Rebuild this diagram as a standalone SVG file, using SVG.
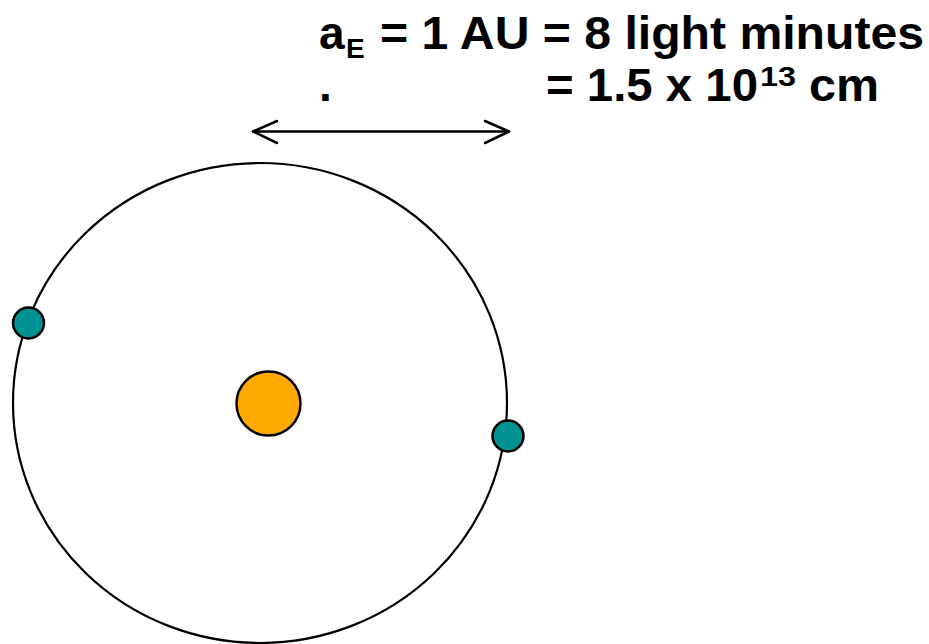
<svg xmlns="http://www.w3.org/2000/svg" width="929" height="644" viewBox="0 0 929 644">
  <style>
    .t { font-family: "Liberation Sans", Arial, sans-serif; font-weight: bold; fill: #000; }
    .big { font-size: 46px; }
    .small { font-size: 28px; }
    .body { stroke: #000; stroke-width: 2.5; }
    .line { fill: none; stroke: #000; stroke-width: 2.5; stroke-linecap: round; stroke-linejoin: round; }
  </style>
  <rect width="929" height="644" fill="#fff"/>
  <g id="orbit">
    <ellipse cx="260" cy="403" rx="247" ry="240" fill="none" stroke="#000" stroke-width="2.2"/>
  </g>
  <g id="sun">
    <circle cx="268.5" cy="403.5" r="32" fill="#FFAA00" class="body"/>
  </g>
  <g id="planet-left">
    <circle cx="28.5" cy="323" r="15.5" fill="#009292" class="body"/>
  </g>
  <g id="planet-right">
    <circle cx="508" cy="436" r="15.5" fill="#009292" class="body"/>
  </g>
  <g id="connectors">
    <path class="line" d="M253,131.5 H509"/>
    <path class="line" d="M277,121 L253,131.5 L277,143"/>
    <path class="line" d="M485,121 L509,131.5 L485,143"/>
  </g>
  <g id="label">
    <text class="t big" x="319" y="49">a</text>
    <text class="t small" x="346" y="58">E</text>
    <text class="t big" x="380" y="49" textLength="544" lengthAdjust="spacingAndGlyphs">= 1 AU = 8 light minutes</text>
    <text class="t big" x="319" y="101">.</text>
    <text class="t big" x="546" y="101" textLength="212" lengthAdjust="spacingAndGlyphs">= 1.5 x 10</text>
    <text class="t small" x="760" y="86" textLength="36" lengthAdjust="spacingAndGlyphs">13</text>
    <text class="t big" x="809" y="101" textLength="70" lengthAdjust="spacingAndGlyphs">cm</text>
  </g>
</svg>
